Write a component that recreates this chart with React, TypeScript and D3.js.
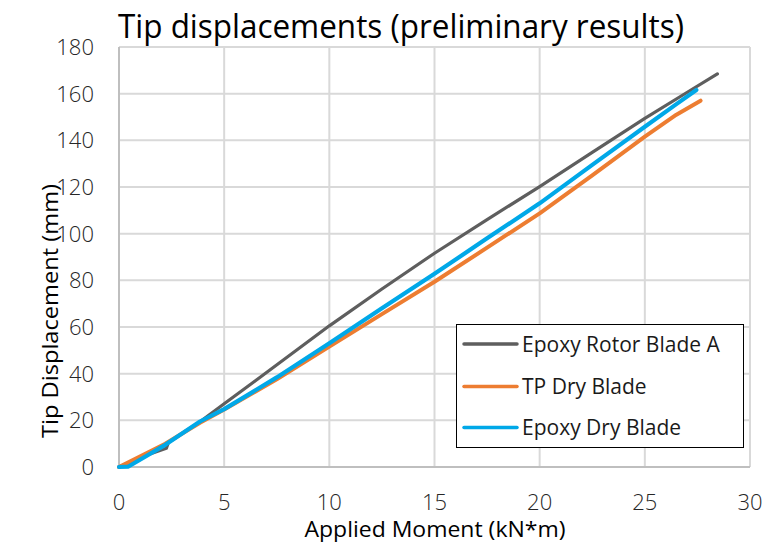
import React from 'react';
import * as d3 from 'd3';

// values
const seriesNames = ['Epoxy Rotor Blade A', 'TP Dry Blade', 'Epoxy Dry Blade'];
const seriesColors = ['#5e5e5e', '#ed7d31', '#00a8e8'];
const seriesWidths = [3.2, 4, 4.2];

const rotorX = [0, 1.3, 2.25, 2.35, 3.85, 5, 6.55, 10, 12.5, 15, 17.5, 20, 22.5, 25, 27, 28.45];
const rotorY = [0, 5, 8, 10.5, 19.4, 27.1, 37.4, 60.5, 76.3, 91.6, 106, 120.2, 134.8, 149.4, 160.5, 168.5];

const tpX = [0, 2.2, 3.85, 5, 7.5, 10, 12.5, 15, 17.5, 20, 22.5, 25, 26.5, 27.65];
const tpY = [0, 10, 19, 24.6, 37.6, 51.6, 65.5, 79.4, 94, 108.7, 125, 141.6, 151, 157];

const dryX = [0, 0.45, 2.2, 3.85, 5, 7.5, 10, 12.5, 15, 17.5, 20, 22.5, 25, 26.5, 27.45];
const dryY = [0, 0.2, 9.5, 19.5, 24.8, 38.4, 53, 68, 82.8, 98, 113, 129.5, 145.8, 155.5, 161.6];

const xTicks = [0, 5, 10, 15, 20, 25, 30];
const yTicks = [0, 20, 40, 60, 80, 100, 120, 140, 160, 180];

const W = 766, H = 543;
const left = 119, right = 750, top = 47, bottom = 467;
const font = '"Open Sans", sans-serif';

export default function App() {
  const x = d3.scaleLinear().domain([0, 30]).range([left, right]);
  const y = d3.scaleLinear().domain([0, 180]).range([bottom, top]);

  const line = d3.line<[number, number]>()
    .x((d) => x(d[0]))
    .y((d) => y(d[1]));

  const series = [
    rotorX.map((v, i) => [v, rotorY[i]] as [number, number]),
    tpX.map((v, i) => [v, tpY[i]] as [number, number]),
    dryX.map((v, i) => [v, dryY[i]] as [number, number]),
  ];

  const legendRows = [344, 386.5, 427.5];

  return (
    <svg width={W} height={H} style={{position: 'absolute', left: 0, top: 0, background: '#fff'}}>
      <rect width={W} height={H} fill="#fff" />
      <text x={118} y={38} fontFamily={font} fontSize={32} fill="#000"
        textLength={566} lengthAdjust="spacingAndGlyphs">Tip displacements (preliminary results)</text>

      {/* grid */}
      {xTicks.filter((t) => t > 0).map((t) => (
        <line key={'gx' + t} x1={x(t)} x2={x(t)} y1={top} y2={bottom} stroke="#d9d9d9" strokeWidth={2} />
      ))}
      {yTicks.filter((t) => t > 0).map((t) => (
        <line key={'gy' + t} x1={left} x2={right} y1={y(t)} y2={y(t)} stroke="#d9d9d9" strokeWidth={2} />
      ))}
      <line x1={left} x2={left} y1={top} y2={bottom} stroke="#bfbfbf" strokeWidth={2} />
      <line x1={left} x2={right} y1={bottom} y2={bottom} stroke="#bfbfbf" strokeWidth={2} />

      {/* tick labels */}
      {yTicks.map((t) => (
        <text key={'ty' + t} x={94} y={y(t)} dy="0.36em" textAnchor="end"
          fontFamily={font} fontWeight={300} fontSize={22} fill="#262626">{t}</text>
      ))}
      {xTicks.map((t) => (
        <text key={'tx' + t} x={x(t)} y={510} textAnchor="middle"
          fontFamily={font} fontWeight={300} fontSize={22} fill="#262626">{t}</text>
      ))}

      {/* axis titles */}
      <text x={435} y={537} textAnchor="middle" fontFamily={font} fontSize={21} fill="#000"
        textLength={261} lengthAdjust="spacingAndGlyphs">Applied Moment (kN*m)</text>
      <text transform="translate(58,311) rotate(-90)" textAnchor="middle" fontFamily={font} fontSize={21} fill="#000"
        textLength={254} lengthAdjust="spacingAndGlyphs">Tip Displacement (mm)</text>

      {/* series */}
      {series.map((s, i) => (
        <path key={'s' + i} d={line(s) || ''} fill="none" stroke={seriesColors[i]}
          strokeWidth={seriesWidths[i]} strokeLinecap="round" strokeLinejoin="round" />
      ))}

      {/* legend */}
      <rect x={456.5} y={324.5} width={287} height={123} fill="#fff" stroke="#000" strokeWidth={1} />
      {seriesNames.map((n, i) => (
        <g key={'lg' + i}>
          <line x1={464} x2={517} y1={legendRows[i]} y2={legendRows[i]} stroke={seriesColors[i]}
            strokeWidth={3.5} strokeLinecap="round" />
          <text x={522} y={legendRows[i]} dy="0.36em" fontFamily={font} fontSize={21} fill="#1a1a1a">{n}</text>
        </g>
      ))}
    </svg>
  );
}
